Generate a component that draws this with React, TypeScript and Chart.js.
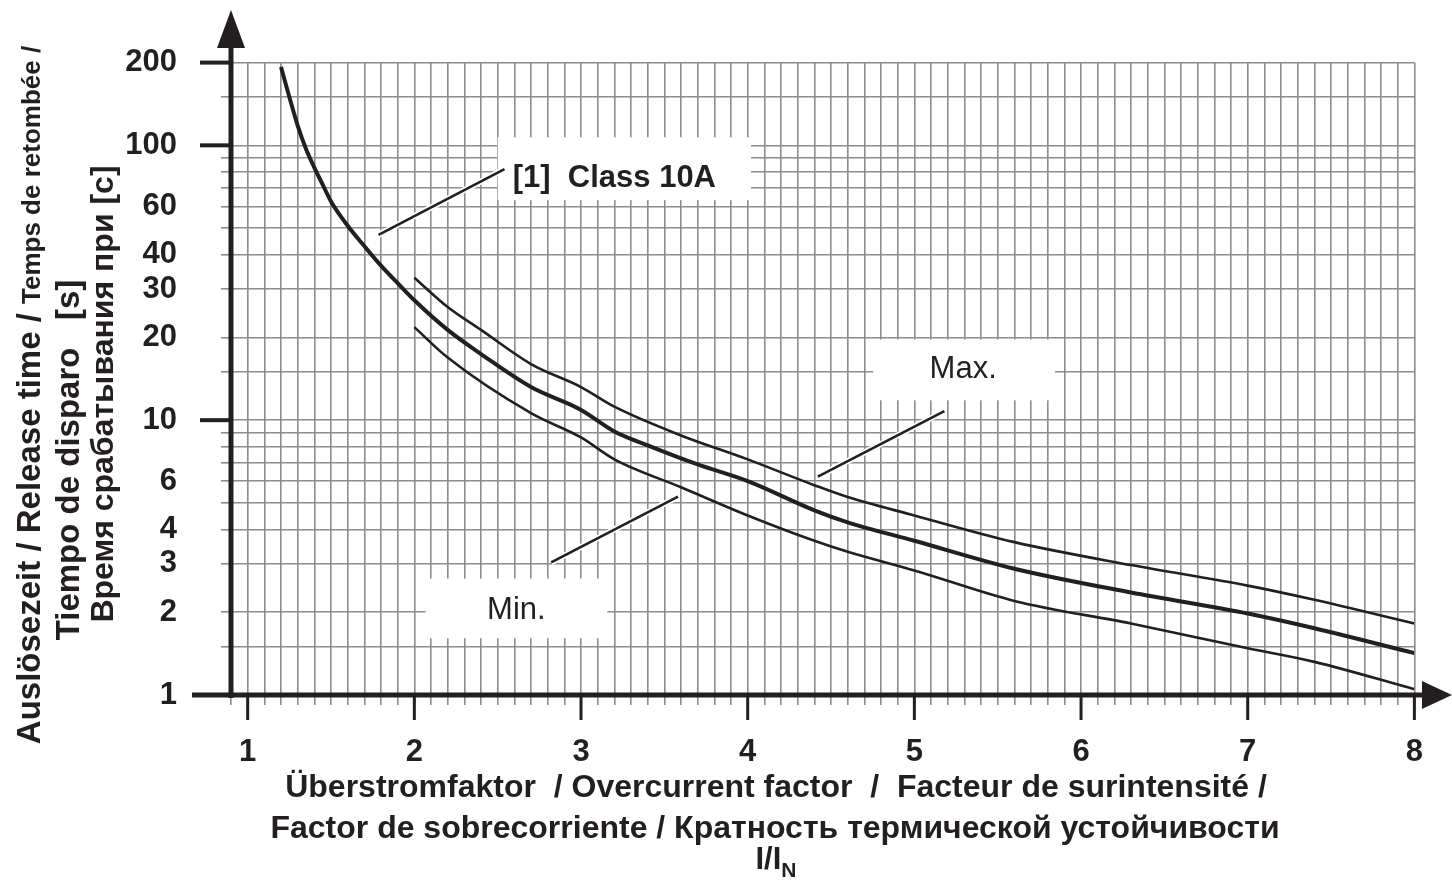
import React, { useEffect, useRef } from 'react';
import { Chart, registerables } from 'chart.js';

Chart.register(...registerables);

// ---- Data ----
const classX = [1.2, 1.25, 1.3, 1.35, 1.4, 1.45, 1.5, 1.6, 1.7, 1.8, 1.9, 2.0, 2.2, 2.4, 2.7, 3.0, 3.2, 3.4, 3.7, 4.0, 4.4, 4.6, 5.0, 5.6, 6.3, 7.0, 7.4, 8.0];
const classY = [193, 150, 118, 97, 83, 72, 62.5, 51, 43, 36.5, 31.5, 27.3, 21.3, 17.4, 13.2, 10.9, 9.1, 8.1, 6.9, 6.0, 4.7, 4.25, 3.64, 2.88, 2.36, 1.98, 1.75, 1.42];

const maxX = [2.0, 2.2, 2.4, 2.7, 3.0, 3.2, 3.6, 4.0, 4.4, 4.6, 5.0, 5.6, 6.3, 7.0, 7.4, 8.0];
const maxY = [33, 25.8, 21.3, 16, 13.2, 11.2, 8.8, 7.2, 5.8, 5.25, 4.5, 3.6, 2.97, 2.5, 2.22, 1.82];

const minX = [2.0, 2.2, 2.7, 3.0, 3.2, 3.6, 4.0, 4.4, 4.6, 5.0, 5.6, 6.3, 7.0, 7.4, 8.0];
const minY = [21.8, 16.9, 10.6, 8.65, 7.2, 5.7, 4.5, 3.64, 3.32, 2.84, 2.2, 1.82, 1.48, 1.32, 1.05];

const xTickLabels = ['1', '2', '3', '4', '5', '6', '7', '8'];
const yTickLabels = ['1', '2', '3', '4', '6', '10', '20', '30', '40', '60', '100', '200'];
const yGridValues = [1, 1.5, 2, 3, 4, 5, 6, 7, 8, 9, 10, 15, 20, 30, 40, 50, 60, 70, 80, 90, 100, 150, 200];
const yMajorTicks = [10, 100, 200];

const xTitleLine1 = 'Überstromfaktor  / Overcurrent factor  /  Facteur de surintensité /';
const xTitleLine2 = 'Factor de sobrecorriente / Кратность термической устойчивости';
const yTitleLine1a = 'Auslösezeit / Release time / ';
const yTitleLine1b = 'Temps de retombée /';
const yTitleLine2 = 'Tiempo de disparo   [s]';
const yTitleLine3 = 'Время срабатывания при [c]';

// ---- Layout / styling ----
const W = 1452;
const H = 880;
const FONT = '"Liberation Sans", Arial, Helvetica, sans-serif';
const INK = '#231f20';
const GRID = '#8c8c8c';

// annotation boxes & leaders in data coordinates
const boxes = [
  { x0: 2.5, x1: 4.02, y0: 63.2, y1: 107 },
  { x0: 4.753, x1: 5.844, y0: 11.81, y1: 19.66 },
  { x0: 2.067, x1: 3.158, y0: 1.609, y1: 2.654 },
];
const leaders = [
  { x0: 1.785, y0: 47.2, x1: 2.541, y1: 81.9 },
  { x0: 4.421, y0: 6.23, x1: 5.18, y1: 10.78 },
  { x0: 2.821, y0: 3.04, x1: 3.582, y1: 5.27 },
];
const notes = [
  { text: '[1]  Class 10A', x: 3.2, y: 75.5, bold: true },
  { text: 'Max.', x: 5.293, y: 15.3, bold: false },
  { text: 'Min.', x: 2.612, y: 2.03, bold: false },
];

const decor = {
  id: 'decor',
  beforeDraw(chart: any) {
    const ctx = chart.ctx;
    ctx.save();
    ctx.fillStyle = '#ffffff';
    ctx.fillRect(0, 0, chart.width, chart.height);
    ctx.restore();
  },
  beforeDatasetsDraw(chart: any) {
    const { ctx } = chart;
    const sx = chart.scales.x;
    const sy = chart.scales.y;
    ctx.save();
    ctx.fillStyle = '#ffffff';
    boxes.forEach((b) => {
      const x0 = sx.getPixelForValue(b.x0);
      const x1 = sx.getPixelForValue(b.x1);
      const y0 = sy.getPixelForValue(b.y0);
      const y1 = sy.getPixelForValue(b.y1);
      ctx.fillRect(x0, y1, x1 - x0, y0 - y1);
    });
    leaders.forEach((l) => {
      const ax = sx.getPixelForValue(l.x0);
      const ay = sy.getPixelForValue(l.y0);
      const bx = sx.getPixelForValue(l.x1);
      const by = sy.getPixelForValue(l.y1);
      ctx.lineCap = 'butt';
      ctx.strokeStyle = '#ffffff';
      ctx.lineWidth = 6;
      ctx.beginPath();
      ctx.moveTo(ax, ay);
      ctx.lineTo(bx, by);
      ctx.stroke();
      ctx.strokeStyle = INK;
      ctx.lineWidth = 2.6;
      ctx.beginPath();
      ctx.moveTo(ax, ay);
      ctx.lineTo(bx, by);
      ctx.stroke();
    });
    ctx.fillStyle = INK;
    ctx.textAlign = 'center';
    ctx.textBaseline = 'middle';
    notes.forEach((n) => {
      ctx.font = `${n.bold ? 'bold ' : ''}31px ${FONT}`;
      ctx.fillText(n.text, sx.getPixelForValue(n.x), sy.getPixelForValue(n.y));
    });
    ctx.restore();
  },
  afterDraw(chart: any) {
    const { ctx, chartArea } = chart;
    const sx = chart.scales.x;
    const sy = chart.scales.y;
    const left = chartArea.left;
    const bottom = chartArea.bottom;
    ctx.save();
    ctx.strokeStyle = INK;
    ctx.fillStyle = INK;
    ctx.lineCap = 'butt';
    // major y ticks
    ctx.lineWidth = 4;
    yMajorTicks.forEach((v) => {
      const py = sy.getPixelForValue(v);
      ctx.beginPath();
      ctx.moveTo(200, py);
      ctx.lineTo(left, py);
      ctx.stroke();
    });
    // major x ticks
    ctx.lineWidth = 3;
    xTickLabels.forEach((t) => {
      const px = sx.getPixelForValue(Number(t));
      ctx.beginPath();
      ctx.moveTo(px, bottom);
      ctx.lineTo(px, bottom + 25);
      ctx.stroke();
    });
    // axes
    ctx.lineWidth = 5;
    ctx.beginPath();
    ctx.moveTo(left, bottom + 3);
    ctx.lineTo(left, 44);
    ctx.stroke();
    ctx.beginPath();
    ctx.moveTo(192, bottom);
    ctx.lineTo(1425, bottom);
    ctx.stroke();
    // arrows
    ctx.beginPath();
    ctx.moveTo(left, 10);
    ctx.lineTo(left - 14, 48);
    ctx.lineTo(left + 14, 48);
    ctx.closePath();
    ctx.fill();
    ctx.beginPath();
    ctx.moveTo(1452, bottom);
    ctx.lineTo(1422, bottom - 14);
    ctx.lineTo(1422, bottom + 14);
    ctx.closePath();
    ctx.fill();

    // x title
    ctx.textBaseline = 'middle';
    ctx.textAlign = 'center';
    ctx.font = `bold 32px ${FONT}`;
    ctx.fillText(xTitleLine1, 776, 788);
    ctx.fillText(xTitleLine2, 775, 829);
    const big = 'I/I';
    ctx.font = `bold 31px ${FONT}`;
    const wBig = ctx.measureText(big).width;
    ctx.font = `bold 21px ${FONT}`;
    const wSub = ctx.measureText('N').width;
    const startX = 776 - (wBig + wSub) / 2;
    ctx.textAlign = 'left';
    ctx.font = `bold 31px ${FONT}`;
    ctx.fillText(big, startX, 860);
    ctx.font = `bold 21px ${FONT}`;
    ctx.fillText('N', startX + wBig, 871);

    // y title (rotated)
    const drawRot = (cx: number, cy: number, parts: { t: string; s: number }[]) => {
      ctx.save();
      ctx.translate(cx, cy);
      ctx.rotate(-Math.PI / 2);
      ctx.textAlign = 'left';
      ctx.textBaseline = 'alphabetic';
      let total = 0;
      parts.forEach((p) => {
        ctx.font = `bold ${p.s}px ${FONT}`;
        total += ctx.measureText(p.t).width;
      });
      let x = -total / 2;
      parts.forEach((p) => {
        ctx.font = `bold ${p.s}px ${FONT}`;
        ctx.fillText(p.t, x, 11);
        x += ctx.measureText(p.t).width;
      });
      ctx.restore();
    };
    drawRot(29, 395, [
      { t: yTitleLine1a, s: 33 },
      { t: yTitleLine1b, s: 26 },
    ]);
    drawRot(68, 460, [{ t: yTitleLine2, s: 33 }]);
    drawRot(102, 394, [{ t: yTitleLine3, s: 32 }]);
    ctx.restore();
  },
};

const isInt = (v: number) => Math.abs(v - Math.round(v)) < 1e-6;

export default function App() {
  const ref = useRef<HTMLCanvasElement | null>(null);
  useEffect(() => {
    if (!ref.current) return;
    const xGrid: number[] = [];
    for (let i = 9; i <= 80; i++) xGrid.push(i / 10);
    const chart = new Chart(ref.current, {
      type: 'line',
      data: {
        datasets: [
          {
            label: 'Class 10A',
            data: classX.map((x, i) => ({ x, y: classY[i] })),
            borderColor: INK,
            borderWidth: 4,
            pointRadius: 0,
            cubicInterpolationMode: 'monotone',
            fill: false,
          },
          {
            label: 'Max.',
            data: maxX.map((x, i) => ({ x, y: maxY[i] })),
            borderColor: INK,
            borderWidth: 2.6,
            pointRadius: 0,
            cubicInterpolationMode: 'monotone',
            fill: false,
          },
          {
            label: 'Min.',
            data: minX.map((x, i) => ({ x, y: minY[i] })),
            borderColor: INK,
            borderWidth: 2.6,
            pointRadius: 0,
            cubicInterpolationMode: 'monotone',
            fill: false,
          },
        ],
      },
      options: {
        animation: false,
        responsive: false,
        maintainAspectRatio: false,
        layout: { padding: { top: 61, right: 37, left: 0, bottom: 0 } },
        plugins: { legend: { display: false }, tooltip: { enabled: false }, title: { display: false } },
        scales: {
          x: {
            type: 'linear',
            min: 0.9,
            max: 8.0,
            afterBuildTicks: (s: any) => {
              s.ticks = xGrid.map((v) => ({ value: v }));
            },
            afterFit: (s: any) => {
              s.height = 185;
            },
            border: { display: false },
            grid: {
              color: (c: any) => (c.tick && Math.abs(c.tick.value - 0.9) < 1e-6 ? 'rgba(0,0,0,0)' : GRID),
              lineWidth: 1.6,
              tickLength: 10,
              drawTicks: true,
              tickColor: GRID,
            },
            ticks: {
              autoSkip: false,
              maxRotation: 0,
              minRotation: 0,
              padding: 29,
              color: INK,
              font: { family: FONT, size: 31, weight: 'bold' },
              callback: (v: any) => {
                const n = Number(v);
                if (!isInt(n)) return '';
                const lbl = xTickLabels.find((t) => Number(t) === Math.round(n));
                return lbl ?? '';
              },
            },
          },
          y: {
            type: 'logarithmic',
            min: 1,
            max: 200,
            afterBuildTicks: (s: any) => {
              s.ticks = yGridValues.map((v) => ({ value: v }));
            },
            afterFit: (s: any) => {
              s.width = 231;
            },
            border: { display: false },
            grid: {
              color: (c: any) => (c.tick && c.tick.value === 1 ? 'rgba(0,0,0,0)' : GRID),
              lineWidth: 1.6,
              tickLength: 10,
              drawTicks: true,
              tickColor: GRID,
            },
            ticks: {
              autoSkip: false,
              crossAlign: 'near',
              padding: 44,
              color: INK,
              font: { family: FONT, size: 31, weight: 'bold' },
              callback: (v: any) => {
                const n = Number(v);
                const lbl = yTickLabels.find((t) => Math.abs(Number(t) - n) < 1e-9);
                return lbl ?? '';
              },
            },
          },
        },
      },
      plugins: [decor],
    } as any);
    return () => chart.destroy();
  }, []);
  return (
    <div style={{ position: 'fixed', left: 0, top: 0, width: W, height: H, background: '#fff' }}>
      <canvas ref={ref} width={W} height={H} style={{ display: 'block', width: W, height: H }} />
    </div>
  );
}
